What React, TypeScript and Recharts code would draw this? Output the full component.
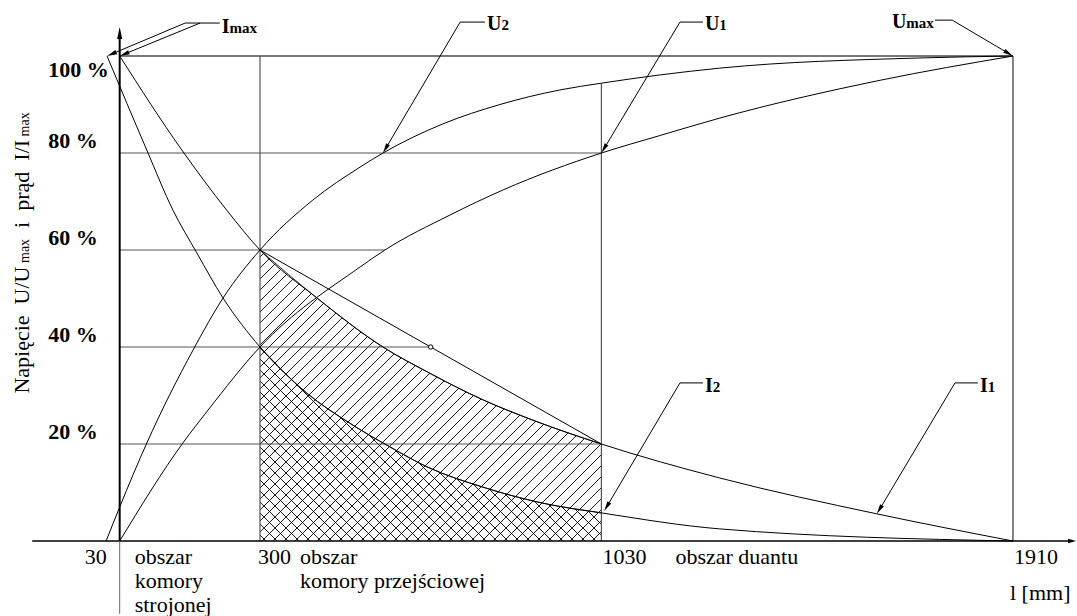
import React from 'react'
import { ComposedChart, Line, Area, XAxis, YAxis, ReferenceLine, ReferenceDot } from 'recharts'

const W = 1077
const H = 616
const SERIF = "'Liberation Serif', 'Times New Roman', Times, serif"

// l [mm] -> U/Umax, I/Imax [%]  (rysunek poglądowy, oś pionowa stoi przy l = 0)
const u1X = [0, 135, 189, 300, 514, 567, 706, 820, 1030, 1155, 1283, 1626, 1910]
const u1Y = [0, 20.2, 27, 40, 56.5, 60, 67.2, 72.4, 80, 83.6, 87.2, 95, 100]
const u2X = [-29, 0, 58, 157, 221, 300, 413, 514, 563, 691, 813, 941, 1030, 1283, 1711, 1910]
const u2Y = [0, 7, 20.2, 39.4, 50.1, 60, 70.3, 77.1, 80, 86, 90, 93, 94.4, 97.5, 99.6, 100]
const i1X = [0, 133, 229, 300, 422, 563, 663, 777, 884, 1030, 1283, 1619, 1910]
const i1Y = [100, 80.6, 68.2, 60, 50.1, 40, 34.6, 29.1, 24.9, 20, 13, 5.6, 0]
const i2X = [-27, 58, 114, 165, 221, 300, 400, 492, 578, 657, 777, 905, 1030, 1283, 1910]
const i2Y = [100, 80.6, 68.2, 59.4, 50.1, 40, 30.5, 24.3, 19.4, 15.3, 11.1, 7.8, 5.8, 2.5, 0]

const xTicks = [0, 300, 1030, 1910]
const xTickLabels = ['30', '300', '1030', '1910']
const yTicks = [20, 40, 60, 80, 100]

// obszar komory przejściowej
const zoneFrom = 300
const zoneTo = 1030

// siatka: [poziom %, koniec l], [l, wysokość %]
const hLines = [[80, 1030], [60, 567], [40, 665], [20, 1030]]
const vLines = [[300, 100], [1030, 94.4]]

const leaders = [
  { main: 'I', sub: 'max', level: 106.8, from: 140, to: 214, dy: 10, arms: [[140, -27, 100], [172, 0, 100]] },
  { main: 'U', sub: '2', level: 107, from: 728, to: 781, dy: 8, arms: [[728, 563, 80]] },
  { main: 'U', sub: '1', level: 107, from: 1198, to: 1247, dy: 8, arms: [[1198, 1030, 80]] },
  { main: 'U', sub: 'max', level: 107.4, from: 1780, to: 1743, dy: 8, arms: [[1780, 1910, 100]] },
  { main: 'I', sub: '2', level: 32.6, from: 1198, to: 1247, dy: 9, arms: [[1198, 1036, 6.2]] },
  { main: 'I', sub: '1', level: 32.6, from: 1786, to: 1835, dy: 9, arms: [[1786, 1619, 5.6]] },
]

const X_DOMAIN = [-255.9, 2046.9]
const Y_DOMAIN = [-15.46, 111.55]

const pts = (xs: number[], ys: number[]) => xs.map((x, i) => ({ x, y: ys[i] }))
const inZone = (d: { x: number; y: number }[]) => d.filter((p) => p.x >= zoneFrom && p.x <= zoneTo)

const Arrow = (p: any) => {
  const { x1, y1, x2, y2, stroke = '#000', strokeWidth = 1, head = 10, wing = 2.4 } = p
  const dx = x2 - x1
  const dy = y2 - y1
  const len = Math.hypot(dx, dy) || 1
  const ux = dx / len
  const uy = dy / len
  const bx = x2 - ux * head
  const by = y2 - uy * head
  const tri = `${x2},${y2} ${bx - uy * wing},${by + ux * wing} ${bx + uy * wing},${by - ux * wing}`
  return (
    <g>
      <line x1={x1} y1={y1} x2={bx + ux * 2} y2={by + uy * 2} stroke={stroke} strokeWidth={strokeWidth} />
      <polygon points={tri} fill={stroke} />
    </g>
  )
}

const Txt = (p: any) => {
  const { x, y, anchor = 'start', size = 22, bold = false, children, transform, pre } = p
  return (
    <text
      x={x}
      y={y}
      textAnchor={anchor}
      transform={transform}
      fill="#000"
      style={{
        fontFamily: SERIF,
        fontSize: size,
        fontWeight: bold ? 700 : 400,
        whiteSpace: pre ? 'pre' : undefined,
      }}
    >
      {children}
    </text>
  )
}

const Note = (p: any) => {
  const { cx, cy, lines, dx = 0, dy = 0, lh = 24, anchor = 'start', bold = false } = p
  return (
    <Txt x={cx + dx} y={cy + dy} anchor={anchor} bold={bold}>
      {lines.map((l: string, i: number) => (
        <tspan key={i} x={cx + dx} dy={i ? lh : 0}>
          {l}
        </tspan>
      ))}
    </Txt>
  )
}

const Tag = (p: any) => {
  const { cx, cy, main, sub, anchor = 'start', dx = 0, dy = 0 } = p
  return (
    <Txt x={cx + dx} y={cy + dy} anchor={anchor} size={20} bold>
      {main}
      <tspan style={{ fontSize: 15 }}>{sub}</tspan>
    </Txt>
  )
}

const AxisTitle = (p: any) => {
  const { cx, cy } = p
  return (
    <Txt x={cx} y={cy} anchor="middle" transform={`rotate(-90 ${cx} ${cy})`} pre>
      {'Napięcie  U/U'}
      <tspan style={{ fontSize: 14 }}>{' max'}</tspan>
      {'  i  prąd  I/I'}
      <tspan style={{ fontSize: 14 }}>{' max'}</tspan>
    </Txt>
  )
}

const curveProps = {
  dataKey: 'y',
  type: 'monotone' as const,
  stroke: '#000',
  strokeWidth: 1,
  dot: false,
  activeDot: false,
  isAnimationActive: false,
}

export default function App() {
  const u1 = pts(u1X, u1Y)
  const u2 = pts(u2X, u2Y)
  const i1 = pts(i1X, i1Y)
  const i2 = pts(i2X, i2Y)
  const grid = '#555'

  return (
    <div style={{ position: 'absolute', left: 0, top: 0, width: W, height: H, background: '#fff' }}>
      <ComposedChart width={W} height={H} margin={{ top: 0, right: 0, bottom: 0, left: 0 }}>
        <defs>
          <pattern id="hatchF" patternUnits="userSpaceOnUse" width="11" height="11">
            <path d="M-2,2 L2,-2 M0,11 L11,0 M9,13 L13,9" stroke="#000" strokeWidth="0.9" />
          </pattern>
          <pattern id="hatchB" patternUnits="userSpaceOnUse" width="11" height="11">
            <path d="M-2,9 L2,13 M0,0 L11,11 M9,-2 L13,2" stroke="#000" strokeWidth="0.9" />
          </pattern>
        </defs>
        <XAxis type="number" dataKey="x" domain={X_DOMAIN} allowDataOverflow hide />
        <YAxis type="number" dataKey="y" domain={Y_DOMAIN} allowDataOverflow hide />

        <Area
          data={inZone(i1)}
          dataKey="y"
          type="monotone"
          baseValue={0}
          fill="url(#hatchF)"
          fillOpacity={1}
          stroke="#000"
          strokeWidth={0.8}
          dot={false}
          activeDot={false}
          isAnimationActive={false}
        />
        <Area
          data={inZone(i2)}
          dataKey="y"
          type="monotone"
          baseValue={0}
          fill="url(#hatchB)"
          fillOpacity={1}
          stroke="#000"
          strokeWidth={0.8}
          dot={false}
          activeDot={false}
          isAnimationActive={false}
        />

        <ReferenceLine segment={[{ x: 0, y: 100 }, { x: 1910, y: 100 }]} stroke="#777" strokeWidth={1.8} />
        <ReferenceLine segment={[{ x: 1910, y: 0 }, { x: 1910, y: 100 }]} stroke="#777" strokeWidth={1.8} />
        {hLines.map(([lv, end]) => (
          <ReferenceLine key={`h${lv}`} segment={[{ x: 0, y: lv }, { x: end, y: lv }]} stroke={grid} strokeWidth={1.2} />
        ))}
        {vLines.map(([at, top]) => (
          <ReferenceLine key={`v${at}`} segment={[{ x: at, y: 0 }, { x: at, y: top }]} stroke={grid} strokeWidth={1.2} />
        ))}
        <ReferenceLine segment={[{ x: 300, y: 60 }, { x: 1030, y: 20 }]} stroke="#000" strokeWidth={1} />
        <ReferenceDot x={665} y={40} r={2.2} fill="#fff" stroke="#000" strokeWidth={1} />

        <ReferenceLine
          segment={[{ x: -187, y: 0 }, { x: 2045, y: 0 }]}
          stroke="#000"
          strokeWidth={1.4}
          shape={<Arrow head={8} wing={2.2} />}
        />
        <ReferenceLine
          segment={[{ x: 0, y: 0 }, { x: 0, y: 106 }]}
          stroke="#000"
          strokeWidth={2}
          shape={<Arrow head={12} wing={2.6} />}
        />
        <ReferenceLine segment={[{ x: 0, y: -15 }, { x: 0, y: 0 }]} stroke="#666" strokeWidth={1} />

        <Line data={i2} {...curveProps} />
        <Line data={i1} {...curveProps} />
        <Line data={u2} {...curveProps} />
        <Line data={u1} {...curveProps} />

        {leaders.map((ld) => [
          <ReferenceLine
            key={`t${ld.main}${ld.sub}`}
            segment={[{ x: ld.from, y: ld.level }, { x: ld.to, y: ld.level }]}
            stroke="#000"
            strokeWidth={1}
          />,
          ...ld.arms.map(([ex, tx, ty]) => (
            <ReferenceLine
              key={`a${ld.main}${ld.sub}${tx}`}
              segment={[{ x: ex, y: ld.level }, { x: tx, y: ty }]}
              stroke="#000"
              strokeWidth={1}
              shape={<Arrow head={10} wing={2.2} />}
            />
          )),
          <ReferenceDot
            key={`l${ld.main}${ld.sub}`}
            x={ld.to}
            y={ld.level}
            r={0}
            shape={
              <Tag
                main={ld.main}
                sub={ld.sub}
                anchor={ld.to > ld.from ? 'start' : 'end'}
                dx={ld.to > ld.from ? 2 : -1}
                dy={ld.dy}
              />
            }
          />,
        ])}

        {/* opisy osi: wartości l i poziomy procentowe */}
        {xTicks.map((t, i) => (
          <ReferenceDot
            key={`xt${t}`}
            x={t}
            y={0}
            r={0}
            shape={
              <Note
                lines={[xTickLabels[i]]}
                anchor={i === 0 ? 'end' : 'start'}
                dx={i === 0 ? -13 : t === 300 ? -2 : 1}
                dy={23}
              />
            }
          />
        ))}
        {yTicks.map((t) => (
          <ReferenceDot
            key={`yt${t}`}
            x={-153}
            y={t}
            r={0}
            shape={<Note lines={[`${t} %`]} bold dy={t === 100 ? 21 : -5} />}
          />
        ))}

        <ReferenceDot x={0} y={0} r={0} shape={<Note lines={['obszar', 'komory', 'strojonej']} dx={15} dy={23} />} />
        <ReferenceDot x={300} y={0} r={0} shape={<Note lines={['obszar', 'komory przejściowej']} dx={40} dy={23} />} />
        <ReferenceDot x={1030} y={0} r={0} shape={<Note lines={['obszar duantu']} dx={74} dy={23} />} />
        <ReferenceDot x={1910} y={0} r={0} shape={<Note lines={['l [mm]']} dx={-3} dy={59} />} />
        <ReferenceDot x={-194} y={59.4} r={0} shape={<AxisTitle />} />
      </ComposedChart>
    </div>
  )
}
